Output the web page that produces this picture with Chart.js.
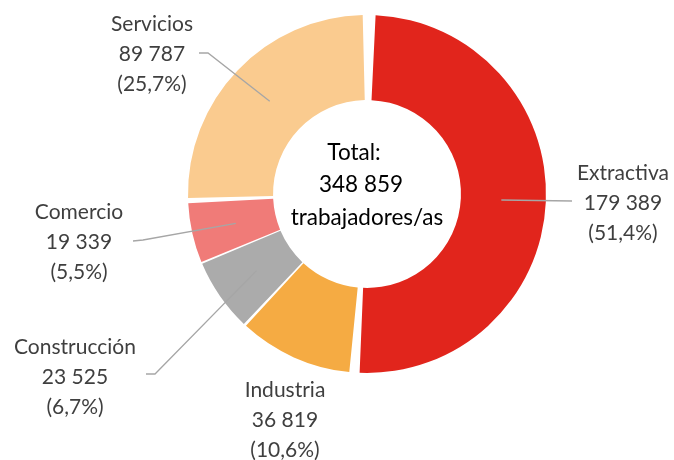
<!DOCTYPE html>
<html>
<head>
<meta charset="utf-8">
<script src="https://cdn.jsdelivr.net/npm/chart.js@4/dist/chart.umd.min.js"></script>
<style>
html,body{margin:0;padding:0;background:#fff;}
canvas{display:block;}
</style>
</head>
<body>
<canvas id="c" width="674" height="460"></canvas>
<script>
// ---- data ----
const categories = ["Extractiva", "Industria", "Construcción", "Comercio", "Servicios"];
const workers = [179389, 36819, 23525, 19339, 89787];
const valueLabels = ["179 389", "36 819", "23 525", "19 339", "89 787"];
const percentLabels = ["(51,4%)", "(10,6%)", "(6,7%)", "(5,5%)", "(25,7%)"];
const centerLines = ["Total:", "348 859", "trabajadores/as"];

// ---- style / layout ----
const colors = ["#E1251C", "#F5AB43", "#ABABAB", "#F07B78", "#FACB8F"];
// text block center (x, first line y) and leader line (elbow, end) per category
const labelLayout = [
  {x: 623, y: 173, line: [[572, 201]]},
  {x: 285, y: 390, line: null},
  {x: 75,  y: 347, line: [[155, 374], [146, 374]]},
  {x: 79,  y: 212, line: [[143, 240], [133, 241]]},
  {x: 152, y: 24,  line: [[208, 53], [199, 53]]}
];
const lineGap = 30;

const labelPlugin = {
  id: 'labels',
  afterDatasetsDraw(chart) {
    const ctx = chart.ctx;
    const arcs = chart.getDatasetMeta(0).data;
    ctx.save();
    // leader lines
    ctx.strokeStyle = '#A6A6A6';
    ctx.lineWidth = 1.3;
    arcs.forEach((arc, i) => {
      const lay = labelLayout[i];
      if (!lay.line) return;
      const p = arc.getProps(['x','y','startAngle','endAngle','innerRadius','outerRadius'], true);
      const a = (p.startAngle + p.endAngle) / 2;
      const r = (p.innerRadius + p.outerRadius) / 2 + 2;
      ctx.beginPath();
      ctx.moveTo(p.x + Math.cos(a) * r, p.y + Math.sin(a) * r);
      lay.line.forEach(pt => ctx.lineTo(pt[0], pt[1]));
      ctx.stroke();
    });
    // outer labels
    ctx.fillStyle = '#3F3F3F';
    ctx.font = '400 21px Lato';
    ctx.textAlign = 'center';
    ctx.textBaseline = 'middle';
    categories.forEach((name, i) => {
      const lay = labelLayout[i];
      [name, valueLabels[i], percentLabels[i]].forEach((t, k) => {
        ctx.fillText(t, lay.x, lay.y + k * lineGap);
      });
    });
    // center text
    const cx = arcs[0].x, cy = arcs[0].y;
    ctx.fillStyle = '#000';
    ctx.font = '400 22.5px Lato';
    ctx.fillText(centerLines[0], cx - 13, cy - 41);
    ctx.fillText(centerLines[1], cx - 6, cy - 9);
    ctx.fillText(centerLines[2], cx, cy + 24);
    ctx.restore();
  }
};

new Chart(document.getElementById('c'), {
  type: 'doughnut',
  data: {
    labels: categories,
    datasets: [{
      data: workers,
      backgroundColor: colors,
      borderWidth: 0,
      spacing: 8,
      hoverOffset: 0
    }]
  },
  options: {
    responsive: false,
    devicePixelRatio: 1,
    animation: false,
    radius: 175,
    cutout: '51.4%',
    layout: {padding: {left: 60, right: 0, top: 0, bottom: 72}},
    plugins: {legend: {display: false}, tooltip: {enabled: false}}
  },
  plugins: [labelPlugin]
});
</script>
</body>
</html>
